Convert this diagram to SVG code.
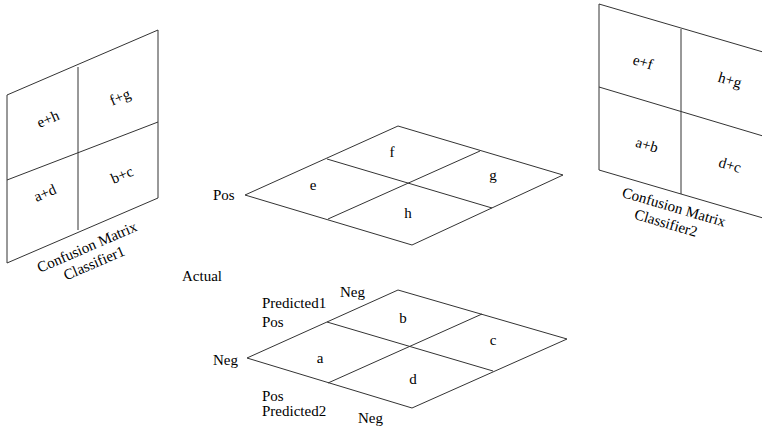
<svg xmlns="http://www.w3.org/2000/svg" width="762" height="429" viewBox="0 0 762 429">
<style>
.ln{fill:none;stroke:#333;stroke-width:1}
text{font-family:"Liberation Serif","Times New Roman",serif;font-size:15px;fill:#000}
.c{text-anchor:middle}
</style>
<rect width="762" height="429" fill="#fff"/>
<g id="matrix1">
<path class="ln" d="M7,95 L158,30 L158,198 L7,263 Z M78,67 L78,230 M7,180 L158,122"/>
<g transform="translate(48,119) rotate(-23.4)"><text class="c" y="5">e+h</text></g>
<g transform="translate(120,97) rotate(-23.4)"><text class="c" y="5">f+g</text></g>
<g transform="translate(45,193) rotate(-23.4)"><text class="c" y="5">a+d</text></g>
<g transform="translate(122,175) rotate(-23.4)"><text class="c" y="5">b+c</text></g>
<g transform="translate(87,247) rotate(-23.4)"><text class="c" y="5">Confusion Matrix</text></g>
<g transform="translate(94,263) rotate(-23.4)"><text class="c" y="5">Classifier1</text></g>
</g>
<g id="matrix2">
<path class="ln" d="M599,4 L763,52 L763,218 L599,170 Z M681,29 L681,194 M599,87 L763,136"/>
<g transform="translate(643,62) rotate(16.4)"><text class="c" y="5">e+f</text></g>
<g transform="translate(730,80) rotate(16.4)"><text class="c" y="5">h+g</text></g>
<g transform="translate(647,145) rotate(16.4)"><text class="c" y="5">a+b</text></g>
<g transform="translate(730,165) rotate(16.4)"><text class="c" y="5">d+c</text></g>
<g transform="translate(674,207) rotate(16.4)"><text class="c" y="5">Confusion Matrix</text></g>
<g transform="translate(666,223) rotate(16.4)"><text class="c" y="5">Classifier2</text></g>
</g>
<g id="actualPos">
<path class="ln" d="M245,195 L398,126 L563,175 L412,245 Z M327,159 L492,208 M480,151 L328,219"/>
<text class="c" x="392" y="157">f</text>
<text class="c" x="313" y="190">e</text>
<text class="c" x="493" y="180">g</text>
<text class="c" x="408" y="218">h</text>
<text x="213" y="200">Pos</text>
</g>
<g id="actualNeg">
<path class="ln" d="M247,358 L398,290 L567,339 L412,408 Z M327,322 L493,371 M482,314 L328,383"/>
<text class="c" x="403" y="323">b</text>
<text class="c" x="320" y="363">a</text>
<text class="c" x="493" y="345">c</text>
<text class="c" x="413" y="384">d</text>
<text x="213" y="365">Neg</text>
</g>
<g id="labels">
<text x="182" y="281">Actual</text>
<text x="340" y="297">Neg</text>
<text x="262" y="308">Predicted1</text>
<text x="262" y="327">Pos</text>
<text x="262" y="401">Pos</text>
<text x="262" y="416">Predicted2</text>
<text x="358" y="423">Neg</text>
</g>
<g id="connectors"></g>
</svg>
